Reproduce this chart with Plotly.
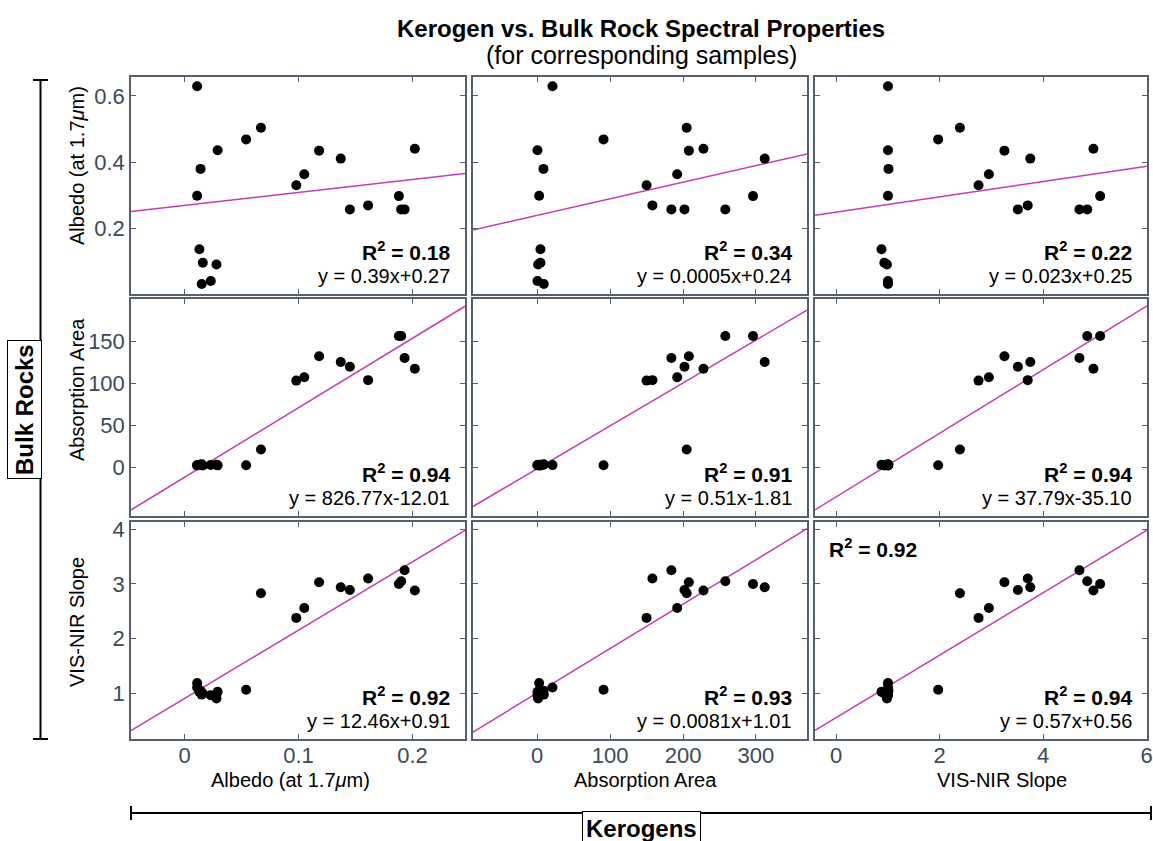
import plotly.graph_objects as go
from plotly.subplots import make_subplots

W, H = 1153, 841

# Per-sample spectral properties (21 corresponding kerogen / bulk-rock pairs)
ker_albedo = [0.011, 0.067, 0.054, 0.029, 0.014, 0.011, 0.118, 0.137, 0.105, 0.098, 0.145,
              0.161, 0.188, 0.190, 0.193, 0.202, 0.013, 0.016, 0.028, 0.015, 0.023]
ker_area = [21, 205, 91, 0.4, 8.6, 2.7, 208, 312, 192, 150, 202,
            158, 296, 258, 184, 228, 4.5, 4.5, 1.3, 9.1, 0.4]
ker_slope = [1.0, 2.39, 1.97, 1.0, 1.01, 1.0, 3.25, 3.75, 2.95, 2.75, 3.51,
             3.70, 5.10, 4.85, 4.70, 4.97, 0.875, 0.93, 0.98, 1.0, 1.0]

bulk_albedo = [0.629, 0.504, 0.469, 0.436, 0.380, 0.299, 0.435, 0.411, 0.364, 0.331, 0.258,
               0.270, 0.298, 0.258, 0.258, 0.441, 0.138, 0.097, 0.092, 0.033, 0.042]
bulk_area = [2.5, 21, 2.4, 2.2, 3.0, 2.0, 132, 125, 107, 103, 119.5,
             103.5, 156, 156, 129.8, 117, 2.8, 2.0, 3.0, 3.5, 2.6]
bulk_slope = [1.11, 2.83, 1.07, 1.03, 1.05, 1.19, 3.03, 2.94, 2.56, 2.38, 2.89,
              3.10, 3.00, 3.05, 3.25, 2.88, 1.03, 1.00, 0.91, 0.98, 0.97]

kerogen_vars = [ker_albedo, ker_area, ker_slope]
bulk_vars = [bulk_albedo, bulk_area, bulk_slope]
var_titles = ["Albedo (at 1.7<i>μ</i>m)", "Absorption Area", "VIS-NIR Slope"]

x_ranges = [[-0.047, 0.246], [-88, 370], [-0.41, 6.005]]
y_ranges = [[0.003, 0.657], [-58, 200], [0.17, 4.13]]
x_ticks = [[0, 0.1, 0.2], [0, 100, 200, 300], [0, 2, 4, 6]]
y_ticks = [[0.2, 0.4, 0.6], [0, 50, 100, 150], [1, 2, 3, 4]]

# Linear fits, rows = bulk-rock property, cols = kerogen property
fit_slope = [[0.39, 0.0005, 0.023], [826.77, 0.51, 37.79], [12.46, 0.0081, 0.57]]
fit_icept = [[0.27, 0.24, 0.25], [-12.01, -1.81, -35.10], [0.91, 1.01, 0.56]]
fit_r2 = [[0.18, 0.34, 0.22], [0.94, 0.91, 0.94], [0.92, 0.93, 0.94]]
extra_r2_slope = 0.92

# panel placement in pixels
col_px = [(131, 465), (473, 807), (815, 1147)]
row_px = [(77, 294), (299, 516), (522, 739)]

FONT = "Liberation Sans, Arial, Helvetica, sans-serif"
FRAME = "#56606a"
TICKLBL = "#3b4a56"
FIT_COLOR = "#c63cb2"
TICKFONT = dict(size=22, color=TICKLBL, family=FONT)


def px(x):
    return x / W


def py(y):
    return 1 - y / H


fig = make_subplots(rows=3, cols=3)

axis_common = dict(showline=True, mirror="ticks", linecolor=FRAME, linewidth=1.5,
                   ticks="inside", ticklen=5, tickwidth=1, tickcolor=FRAME,
                   showgrid=False, zeroline=False, tickfont=TICKFONT, automargin=False)

annotations = []
for r in range(3):
    for c in range(3):
        xs = kerogen_vars[c]
        ys = bulk_vars[r]
        m, b = fit_slope[r][c], fit_icept[r][c]
        x0, x1 = x_ranges[c]
        fig.add_trace(go.Scatter(x=[x0, x1], y=[m * x0 + b, m * x1 + b], mode="lines",
                                 line=dict(color=FIT_COLOR, width=1.5),
                                 hoverinfo="skip", showlegend=False), row=r + 1, col=c + 1)
        fig.add_trace(go.Scatter(x=xs, y=ys, mode="markers",
                                 marker=dict(color="black", size=10, line=dict(width=0)),
                                 showlegend=False), row=r + 1, col=c + 1)
        fig.update_xaxes(row=r + 1, col=c + 1,
                         domain=[px(col_px[c][0]), px(col_px[c][1])],
                         range=x_ranges[c], tickvals=x_ticks[c],
                         showticklabels=(r == 2), ticklabelstandoff=-4,
                         **axis_common)
        fig.update_yaxes(row=r + 1, col=c + 1,
                         domain=[py(row_px[r][1]), py(row_px[r][0])],
                         range=y_ranges[r], tickvals=y_ticks[r],
                         showticklabels=(c == 0),
                         **axis_common)
        right = col_px[c][1] - 13
        bottom = row_px[r][1]
        annotations.append(dict(x=px(right), y=py(bottom - 43), xref="paper", yref="paper",
                                xanchor="right", yanchor="middle", showarrow=False,
                                text=f"<b>R<sup>2</sup> = {fit_r2[r][c]:.2f}</b>",
                                font=dict(size=21, color="black", family=FONT)))
        annotations.append(dict(x=px(right), y=py(bottom - 18), xref="paper", yref="paper",
                                xanchor="right", yanchor="middle", showarrow=False,
                                text=f"y = {m:g}x{b:+.2f}",
                                font=dict(size=20, color="black", family=FONT)))

# extra R² label in the slope-vs-slope panel
annotations.append(dict(x=px(827), y=py(548), xref="paper", yref="paper",
                        xanchor="left", yanchor="middle", showarrow=False,
                        text=f"<b>R<sup>2</sup> = {extra_r2_slope:.2f}</b>",
                        font=dict(size=21, color="black", family=FONT)))

# axis titles
y_title_centers = [166, 390, 622]
for r in range(3):
    annotations.append(dict(x=px(77), y=py(y_title_centers[r]), xref="paper", yref="paper",
                            xanchor="center", yanchor="middle", showarrow=False,
                            textangle=-90, text=var_titles[r],
                            font=dict(size=20, color="black", family=FONT)))
x_title_centers = [290, 645, 1002]
for c in range(3):
    annotations.append(dict(x=px(x_title_centers[c]), y=py(780), xref="paper", yref="paper",
                            xanchor="center", yanchor="middle", showarrow=False,
                            text=var_titles[c],
                            font=dict(size=20, color="black", family=FONT)))

# titles
annotations.append(dict(x=px(641), y=py(28), xref="paper", yref="paper",
                        xanchor="center", yanchor="middle", showarrow=False,
                        text="<b>Kerogen vs. Bulk Rock Spectral Properties</b>",
                        font=dict(size=24, color="black", family=FONT)))
annotations.append(dict(x=px(641), y=py(55), xref="paper", yref="paper",
                        xanchor="center", yanchor="middle", showarrow=False,
                        text="(for corresponding samples)",
                        font=dict(size=25, color="black", family=FONT)))

# group labels
annotations.append(dict(x=px(24), y=py(410), xref="paper", yref="paper",
                        xanchor="center", yanchor="middle", showarrow=False,
                        textangle=-90, text="<b>Bulk Rocks</b>",
                        bgcolor="white", bordercolor="black", borderwidth=1, borderpad=3,
                        font=dict(size=24, color="black", family=FONT)))
annotations.append(dict(x=px(641), y=py(828), xref="paper", yref="paper",
                        xanchor="center", yanchor="middle", showarrow=False,
                        text="<b>Kerogens</b>",
                        bgcolor="white", bordercolor="black", borderwidth=1, borderpad=3,
                        font=dict(size=24, color="black", family=FONT)))

line_style = dict(color="black", width=2)
shapes = [
    # vertical bracket for bulk rocks
    dict(type="line", xref="paper", yref="paper", x0=px(40.5), x1=px(40.5), y0=py(80), y1=py(739), line=line_style),
    dict(type="line", xref="paper", yref="paper", x0=px(33), x1=px(48), y0=py(80), y1=py(80), line=line_style),
    dict(type="line", xref="paper", yref="paper", x0=px(33), x1=px(48), y0=py(739), y1=py(739), line=line_style),
    # horizontal bracket for kerogens
    dict(type="line", xref="paper", yref="paper", x0=px(131), x1=px(1151), y0=py(813), y1=py(813), line=line_style),
    dict(type="line", xref="paper", yref="paper", x0=px(131), x1=px(131), y0=py(806), y1=py(820), line=line_style),
    dict(type="line", xref="paper", yref="paper", x0=px(1151), x1=px(1151), y0=py(806), y1=py(820), line=line_style),
]

fig.update_layout(width=W, height=H, margin=dict(l=0, r=0, t=0, b=0),
                  paper_bgcolor="white", plot_bgcolor="white",
                  annotations=annotations, shapes=shapes,
                  font=dict(family=FONT), showlegend=False)

fig.write_html("out.html")
